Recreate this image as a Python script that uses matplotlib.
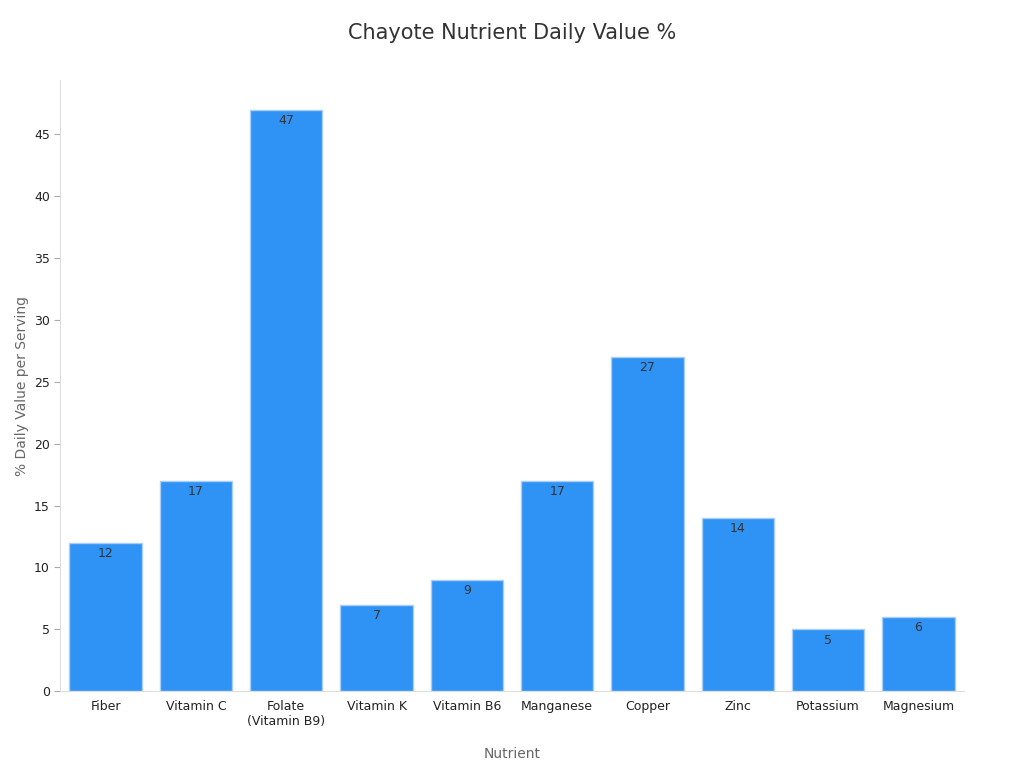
import matplotlib.pyplot as plt

nutrients = ['Fiber', 'Vitamin C', 'Folate\n(Vitamin B9)', 'Vitamin K', 'Vitamin B6',
             'Manganese', 'Copper', 'Zinc', 'Potassium', 'Magnesium']
values = [12, 17, 47, 7, 9, 17, 27, 14, 5, 6]

plt.rcParams['font.family'] = ['DejaVu Sans']
fig, ax = plt.subplots(figsize=(10.24, 7.68), dpi=100)
fig.subplots_adjust(left=0.059, right=0.941, top=0.896, bottom=0.1)

x = range(len(nutrients))
bars = ax.bar(x, values, width=0.8, color='#2f92f5', edgecolor='#a9cdf5', linewidth=1)
for xi, v in zip(x, values):
    ax.text(xi, v - 0.35, str(v), ha='center', va='top', fontsize=9, color='#333333')

ax.set_xticks(list(x))
ax.set_xticklabels(nutrients, fontsize=9, color='#222222')
ax.set_xlim(-0.5, 9.5)
ax.set_ylim(0, 49.4)
ax.set_yticks(range(0, 50, 5))
ax.tick_params(axis='y', labelsize=9, colors='#222222', length=4, color='#aaaaaa')
ax.tick_params(axis='x', length=0, pad=6)
for s in ['top', 'right']:
    ax.spines[s].set_visible(False)
for s in ['left', 'bottom']:
    ax.spines[s].set_color('#dddddd')

ax.set_xlabel('Nutrient', fontsize=10, color='#666666', labelpad=14)
ax.set_ylabel('% Daily Value per Serving', fontsize=10, color='#666666')
fig.suptitle('Chayote Nutrient Daily Value %', fontsize=15, color='#333333', y=0.97)

fig.savefig('out.png', dpi=100, facecolor='white')
